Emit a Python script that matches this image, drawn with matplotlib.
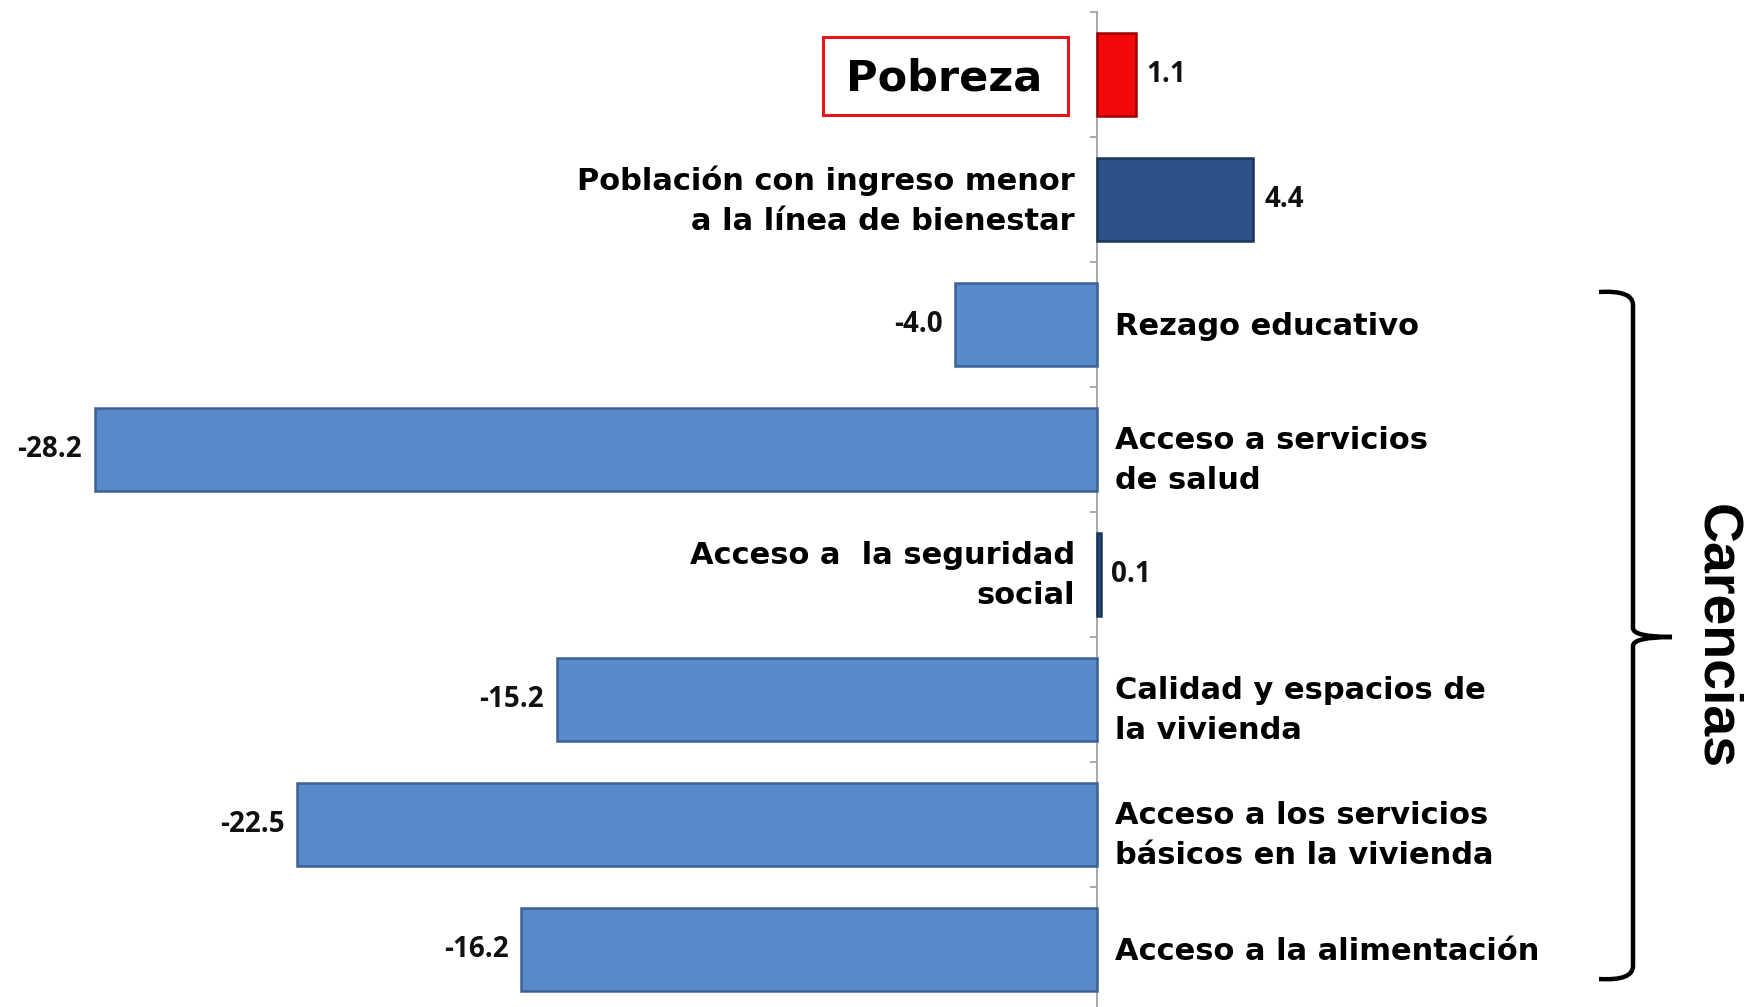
import numpy as np
import matplotlib
matplotlib.use("Agg")
import matplotlib.pyplot as plt
from matplotlib.path import Path
from matplotlib.patches import PathPatch, Rectangle

# ------------------------------------------------------------
# Data
# ------------------------------------------------------------
categories = [
    "Pobreza",
    "Población con ingreso menor\na la línea de bienestar",
    "Rezago educativo",
    "Acceso a servicios\nde salud",
    "Acceso a  la seguridad\nsocial",
    "Calidad y espacios de\nla vivienda",
    "Acceso a los servicios\nbásicos en la vivienda",
    "Acceso a la alimentación",
]
values = [1.1, 4.4, -4.0, -28.2, 0.1, -15.2, -22.5, -16.2]
value_labels = ["1.1", "4.4", "-4.0", "-28.2", "0.1", "-15.2", "-22.5", "-16.2"]
bar_colors = ["#F20A0A", "#2B5387", "#5889C8", "#5889C8", "#2B5387",
              "#5889C8", "#5889C8", "#5889C8"]
edge_colors = ["#A00000", "#1B355A", "#3A6296", "#3A6296", "#1B355A",
               "#3A6296", "#3A6296", "#3A6296"]
group_label = "Carencias"

W, H = 1744, 1007

# ------------------------------------------------------------
# Figure / axes
# ------------------------------------------------------------
fig = plt.figure(figsize=(W / 100, H / 100), dpi=100)
ax = fig.add_axes([0, -5 / H, 1, 1000 / H])

y = np.arange(len(values))
ax.barh(y, values, height=0.66, color=bar_colors, edgecolor=edge_colors,
        linewidth=1.8, zorder=3)

ax.set_xlim(-30.86, 18.2)
ax.set_ylim(len(values) - 0.5, -0.5)

for s in ["top", "right", "bottom"]:
    ax.spines[s].set_visible(False)
ax.spines["left"].set_position(("data", 0))
ax.spines["left"].set_color("#9A9A9A")
ax.spines["left"].set_linewidth(1.2)
ax.set_xticks([])
ax.set_yticks(np.arange(-0.5, len(values), 1))
ax.set_yticklabels([])
ax.tick_params(axis="y", direction="out", length=5, color="#9A9A9A", width=1.2)

# value labels
for yi, v, lab in zip(y, values, value_labels):
    if v >= 0:
        ax.text(v + 0.3, yi, lab, ha="left", va="center", fontsize=20,
                fontweight="bold", family="Open Sans", color="#111111")
    else:
        ax.text(v - 0.35, yi, lab, ha="right", va="center", fontsize=20,
                fontweight="bold", family="Open Sans", color="#111111")

# category labels
for i, (yi, v, cat) in enumerate(zip(y, values, categories)):
    if i == 0:
        ax.text(-4.3, yi + 0.03, cat, ha="center", va="center", fontsize=31,
                fontweight="bold", family="DejaVu Sans", color="black")
        continue
    two_lines = "\n" in cat
    if v >= 0:
        ax.text(-0.62, yi + 0.01, cat, ha="right", va="center", fontsize=22,
                fontweight="bold", family="DejaVu Sans", linespacing=1.48)
    else:
        ax.text(0.5, yi + (0.09 if two_lines else 0.02), cat, ha="left",
                va="center", fontsize=22, fontweight="bold",
                family="DejaVu Sans", linespacing=1.48)

# red box around "Pobreza"
fig.patches.append(Rectangle((823 / W, 1 - 115 / H), 245 / W, 78 / H,
                             transform=fig.transFigure, fill=False,
                             edgecolor="#E8141B", linewidth=2.2))

# brace for the "Carencias" group
def px(x, yy):
    return (x / W, 1 - yy / H)

verts = [px(1599, 292), px(1633, 290), px(1633, 305),
         px(1633, 628),
         px(1633, 637), px(1672, 637),
         px(1633, 637), px(1633, 646),
         px(1633, 966),
         px(1633, 981), px(1599, 979)]
codes = [Path.MOVETO, Path.CURVE3, Path.CURVE3,
         Path.LINETO,
         Path.CURVE3, Path.CURVE3,
         Path.CURVE3, Path.CURVE3,
         Path.LINETO,
         Path.CURVE3, Path.CURVE3]
fig.patches.append(PathPatch(Path(verts, codes), transform=fig.transFigure,
                             fill=False, edgecolor="black", linewidth=3.2))

fig.text(1716 / W, 1 - 637 / H, group_label, rotation=-90, ha="center",
         va="center", fontsize=40, fontweight="bold", family="Liberation Sans")

fig.savefig("out.png", dpi=100)
